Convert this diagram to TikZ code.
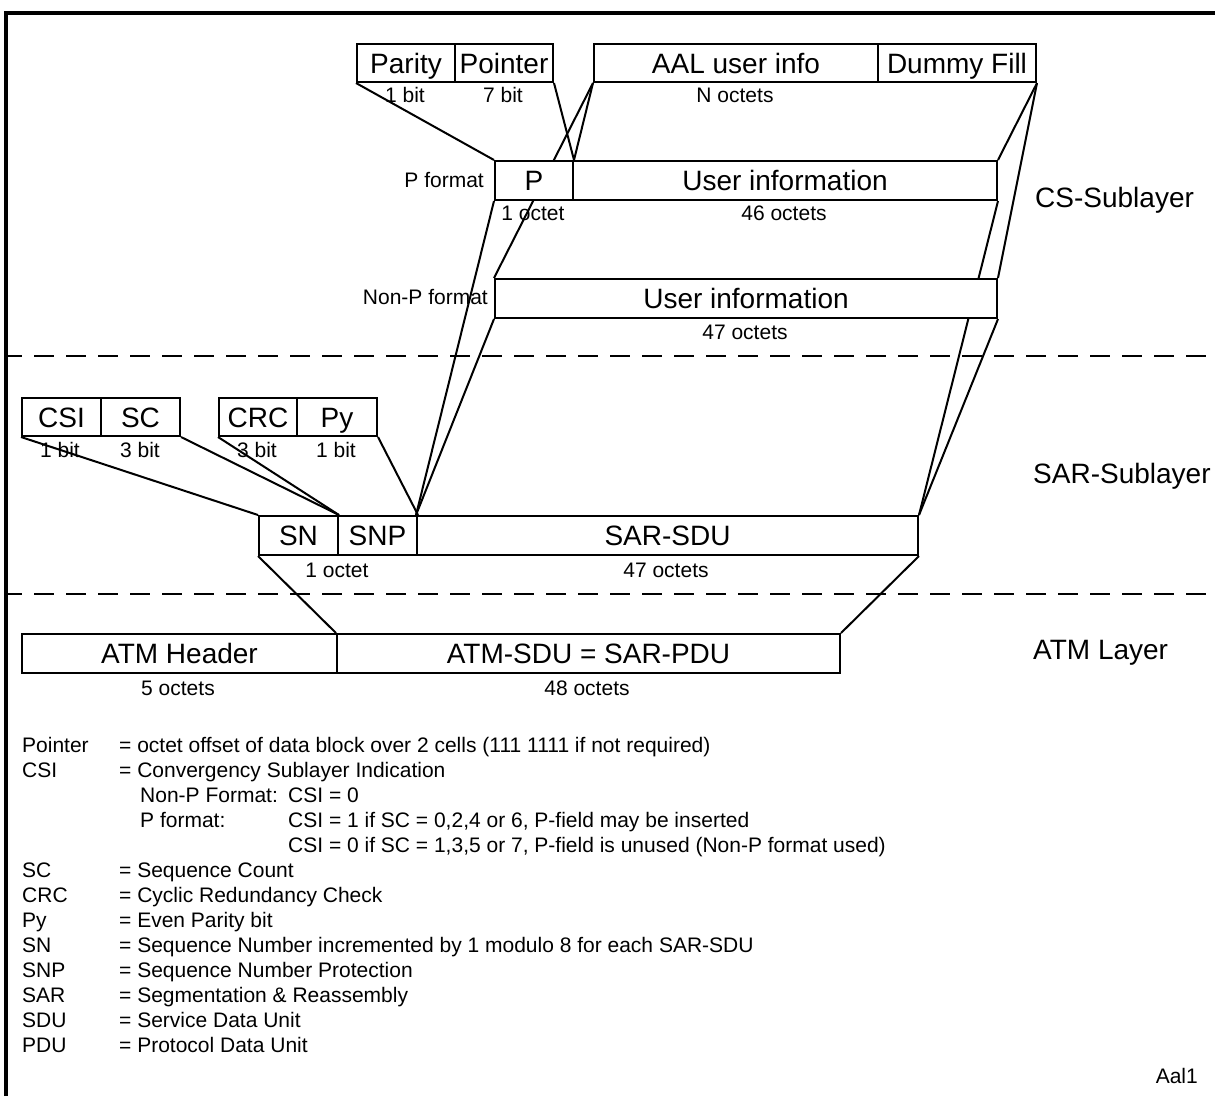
\documentclass[tikz,border=0pt]{standalone}
\usepackage{fontspec}
\setmainfont{Liberation Sans}
\pgfdeclarelayer{background}
\pgfsetlayers{background,main}
\begin{document}
\begin{tikzpicture}[x=1pt,y=-1pt,
  box/.style={draw,fill=white,line width=2pt,rectangle,anchor=north west,inner sep=0pt,
    font=\fontsize{28}{32}\selectfont,text height=20pt,text depth=0pt},
  lbl/.style={inner sep=0pt,font=\fontsize{21}{25}\selectfont,text height=15pt,text depth=0pt},
  big/.style={inner sep=0pt,font=\fontsize{28}{32}\selectfont,text height=20pt,text depth=0pt},
  leg/.style={inner sep=0pt,anchor=base west,font=\fontsize{21}{25}\selectfont},
  conn/.style={line width=2pt},
  layerline/.style={line width=2pt,dash pattern=on 20pt off 12pt,dash phase=4pt}]
\useasboundingbox (0,0) rectangle (1215,1096);
% border
\draw[line width=4pt] (6,1096) -- (6,13) -- (1215,13);
% dashed layer separators
\coordinate (d1a) at (6,356);
\coordinate (d1b) at (1215,356);
\coordinate (d2a) at (6,594);
\coordinate (d2b) at (1215,594);
\draw[layerline] (d1a) -- (d1b);
\draw[layerline] (d2a) -- (d2b);
% CS sublayer boxes
\node[box,minimum width=98pt,minimum height=38pt] (parity) at (356,43) {Parity};
\node[box,minimum width=98pt,minimum height=38pt] (pointer) at (454,43) {Pointer};
\node[box,minimum width=284pt,minimum height=38pt] (aal) at (593,43) {AAL user info};
\node[box,minimum width=158pt,minimum height=38pt] (dummy) at (877,43) {Dummy Fill};
\node[box,minimum width=78pt,minimum height=39pt] (pP) at (494,160) {P};
\node[box,minimum width=424pt,minimum height=39pt] (puser) at (572,160) {User information};
\node[box,minimum width=502pt,minimum height=39pt] (npuser) at (494,278) {User information};
% SAR sublayer boxes
\node[box,minimum width=79pt,minimum height=38pt] (csi) at (21,397) {CSI};
\node[box,minimum width=79pt,minimum height=38pt] (sc) at (100,397) {SC};
\node[box,minimum width=78pt,minimum height=38pt] (crc) at (218,397) {CRC};
\node[box,minimum width=80pt,minimum height=38pt] (py) at (296,397) {Py};
\node[box,minimum width=79pt,minimum height=39pt] (sn) at (258,515) {SN};
\node[box,minimum width=79pt,minimum height=39pt] (snp) at (337,515) {SNP};
\node[box,minimum width=501pt,minimum height=39pt] (sdu) at (416,515) {SAR-SDU};
% ATM layer boxes
\node[box,minimum width=315pt,minimum height=39pt] (atmh) at (21,633) {ATM Header};
\node[box,minimum width=503pt,minimum height=39pt] (atmsdu) at (336,633) {ATM-SDU = SAR-PDU};
% size labels
\node[lbl] (l1) at (405,95) {1 bit};
\node[lbl] (l2) at (503,95) {7 bit};
\node[lbl] (l3) at (735,95) {N octets};
\node[lbl] (l4) at (533,213) {1 octet};
\node[lbl] (l5) at (784,213) {46 octets};
\node[lbl] (l6) at (745,332) {47 octets};
\node[lbl] (l7) at (60,450) {1 bit};
\node[lbl] (l8) at (140,450) {3 bit};
\node[lbl] (l9) at (257,450) {3 bit};
\node[lbl] (l10) at (336,450) {1 bit};
\node[lbl] (l11) at (337,570) {1 octet};
\node[lbl] (l12) at (666,570) {47 octets};
\node[lbl] (l13) at (178,688) {5 octets};
\node[lbl] (l14) at (587,688) {48 octets};
% format labels
\node[lbl,anchor=east] (pf) at (484,180) {P format};
\node[lbl,anchor=east] (npf) at (488,297) {Non-P format};
% layer labels
\node[big,anchor=west] (cs) at (1035,197) {CS-Sublayer};
\node[big,anchor=west] (sar) at (1033,473) {SAR-Sublayer};
\node[big,anchor=west] (atm) at (1033,649) {ATM Layer};
% connectors
\begin{pgfonlayer}{background}
\draw[conn] (parity.south west) -- (pP.north west);
\draw[conn] (pointer.south east) -- (pP.north east);
\draw[conn] (aal.south west) -- (pP.north east);
\draw[conn] (aal.south west) -- (npuser.north west);
\draw[conn] (dummy.south east) -- (puser.north east);
\draw[conn] (dummy.south east) -- (npuser.north east);
\draw[conn] (pP.south west) -- (sdu.north west);
\draw[conn] (npuser.south west) -- (sdu.north west);
\draw[conn] (puser.south east) -- (sdu.north east);
\draw[conn] (npuser.south east) -- (sdu.north east);
\draw[conn] (csi.south west) -- (sn.north west);
\draw[conn] (sc.south east) -- (sn.north east);
\draw[conn] (crc.south west) -- (sn.north east);
\draw[conn] (py.south east) -- (snp.north east);
\draw[conn] (sn.south west) -- (atmsdu.north west);
\draw[conn] (sdu.south east) -- (atmsdu.north east);
\end{pgfonlayer}
% legend
\node[leg] (k1) at (22,752) {Pointer};
\node[leg] (v1) at (119,752) {= octet offset of data block over 2 cells (111 1111 if not required)};
\node[leg] (k2) at (22,777) {CSI};
\node[leg] (v2) at (119,777) {= Convergency Sublayer Indication};
\node[leg] (v2a) at (140,802) {Non-P Format:};
\node[leg] (v2b) at (288,802) {CSI = 0};
\node[leg] (v2c) at (140,827) {P format:};
\node[leg] (v2d) at (288,827) {CSI = 1 if SC = 0,2,4 or 6, P-field may be inserted};
\node[leg] (v2e) at (288,852) {CSI = 0 if SC = 1,3,5 or 7, P-field is unused (Non-P format used)};
\node[leg] (k3) at (22,877) {SC};
\node[leg] (v3) at (119,877) {= Sequence Count};
\node[leg] (k4) at (22,902) {CRC};
\node[leg] (v4) at (119,902) {= Cyclic Redundancy Check};
\node[leg] (k5) at (22,927) {Py};
\node[leg] (v5) at (119,927) {= Even Parity bit};
\node[leg] (k6) at (22,952) {SN};
\node[leg] (v6) at (119,952) {= Sequence Number incremented by 1 modulo 8 for each SAR-SDU};
\node[leg] (k7) at (22,977) {SNP};
\node[leg] (v7) at (119,977) {= Sequence Number Protection};
\node[leg] (k8) at (22,1002) {SAR};
\node[leg] (v8) at (119,1002) {= Segmentation \& Reassembly};
\node[leg] (k9) at (22,1027) {SDU};
\node[leg] (v9) at (119,1027) {= Service Data Unit};
\node[leg] (k10) at (22,1052) {PDU};
\node[leg] (v10) at (119,1052) {= Protocol Data Unit};
\node[lbl,anchor=east] (aal1) at (1198,1076) {Aal1};
\end{tikzpicture}
\end{document}
